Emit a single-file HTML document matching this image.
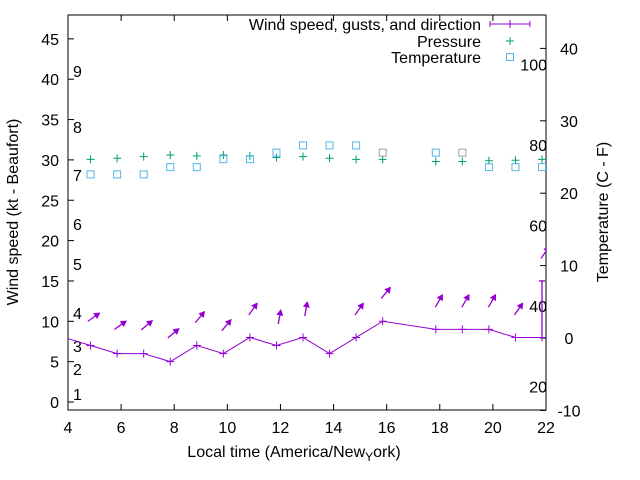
<!DOCTYPE html>
<html><head><meta charset="utf-8"><style>body{margin:0;background:#fff}svg{display:block;font-family:"Liberation Sans",sans-serif}</style></head>
<body>
<svg id="c" width="640" height="480" xmlns="http://www.w3.org/2000/svg"></svg>
<script>
const hours=[3.85,4.85,5.85,6.85,7.85,8.85,9.85,10.85,11.85,12.85,13.85,14.85,15.85,17.85,18.85,19.85,20.85,21.85];
const wind=[8,7,6,6,5,7,6,8,7,8,6,8,10,9,9,9,8,8];
const gust=[null,null,null,null,null,null,null,null,null,null,null,null,null,null,null,null,null,15];
const pressure=[null,30.07,30.2,30.4,30.6,30.5,30.6,30.5,30.3,30.4,30.2,30.07,30.07,29.8,29.8,29.9,29.95,30.07];
const temperature=[null,22.6,22.6,22.6,23.6,23.6,24.7,24.7,25.6,26.6,26.6,26.6,25.6,25.6,25.6,23.6,23.6,23.6];
const windDir=[null,35,35,40,40,50,50,55,80,80,null,55,50,60,60,60,55,55];
const xTicks=[4,6,8,10,12,14,16,18,20,22];
const yTicks=[0,5,10,15,20,25,30,35,40,45];
const y2Ticks=[-10,0,10,20,30,40];
const beaufort=[1,2,3,4,5,6,7,8,9];
const fahr=[20,40,60,80,100];
const L=68,R=546,T=15,B=402;
const X=v=>L+(v-4)*(R-L)/18;
const Y=v=>B-v*8.07;
const Y2=v=>338-v*7.24;
const s=document.getElementById('c');
function el(t,a,txt,parent){const e=document.createElementNS('http://www.w3.org/2000/svg',t);for(const k in a)e.setAttribute(k,a[k]);if(txt!=null)e.textContent=txt;(parent||s).appendChild(e);return e;}
let e;
e=el('rect',{x:L,y:T,width:R-L,height:B+8-T,fill:'none',stroke:'#000','stroke-width':1});


xTicks.forEach(v=>{const x=X(v);
e=el('line',{x1:x,x2:x,y1:410,y2:404,stroke:'#000'});


el('line',{x1:x,x2:x,y1:T,y2:T+6,stroke:'#000'});
e=el('text',{x:x,y:433,'font-size':16,'text-anchor':'middle'},v);

});
yTicks.forEach(v=>{const y=Y(v);
el('line',{x1:L,x2:L+6,y1:y,y2:y,stroke:'#000'});
e=el('text',{x:59,y:y+6,'font-size':16,'text-anchor':'end'},v);

});
y2Ticks.forEach(v=>{const y=Y2(v);
el('line',{x1:R,x2:R-6,y1:y,y2:y,stroke:'#000'});
e=el('text',{x:569,y:y+6,'font-size':16,'text-anchor':'middle'},v);

});
const bys=[394,369,346,313,264,224,175,127,71];
beaufort.forEach((b,i)=>{
e=el('text',{x:73,y:bys[i]+6,'font-size':16},b);

});
fahr.forEach(f=>{const y=Y2((f-32)*5/9);
e=el('text',{x:547,y:y+6,'font-size':16,'text-anchor':'end'},f);

});
e=el('text',{x:294,y:457,'font-size':16,'text-anchor':'middle'});
e.innerHTML='Local time (America/New<tspan font-size="12" dy="4">Y</tspan><tspan dy="-4">ork)</tspan>';


e=el('text',{x:18,y:212,'font-size':16,'text-anchor':'middle',transform:'rotate(-90 18 212)'},'Wind speed (kt - Beaufort)');


e=el('text',{x:608,y:212,'font-size':16,'text-anchor':'middle',transform:'rotate(-90 608 212)'},'Temperature (C - F)');


el('clipPath',{id:'cp'}).innerHTML='<rect x="68" y="15" width="478" height="395"/>';
const g=el('g',{'clip-path':'url(#cp)'});


const P='#9400d3';
let d=hours.map((h,i)=>(i?'L':'M')+X(h)+' '+Y(wind[i])).join(' ');
e=el('path',{d:d,stroke:P,fill:'none'},null,g);


function arrow(x,yv,deg){const a=deg*Math.PI/180,cy=Y(yv),cx=x+3,dx=Math.cos(a)*7,dy=-Math.sin(a)*7;
const tx=cx+dx,ty=cy+dy,ang=Math.atan2(dy,dx);
return el('path',{d:`M${cx-dx} ${cy-dy}L${tx} ${ty}M${tx} ${ty}L${tx-5*Math.cos(ang-0.5)} ${ty-5*Math.sin(ang-0.5)}L${tx-5*Math.cos(ang+0.5)} ${ty-5*Math.sin(ang+0.5)}Z`,stroke:P,fill:P,'stroke-width':1.3},null,g);}
hours.forEach((h,i)=>{const x=X(h),y=Y(wind[i]);
e=el('path',{d:`M${x-4} ${y}H${x+4}M${x} ${y-4}V${y+4}`,stroke:P},null,g);


if(windDir[i]!=null){const base=gust[i]!=null?gust[i]:wind[i];
e=arrow(x,base+3.5,windDir[i]);

}
if(gust[i]!=null){
e=el('path',{d:`M${x} ${y}V${Y(gust[i])}M${x-3} ${Y(gust[i])}H${x+3}`,stroke:P,'stroke-width':1.3},null,g);

}});
pressure.forEach((p,i)=>{if(p==null)return;const x=X(hours[i]),y=Y(p);
e=el('path',{d:`M${x-4} ${y}H${x+4}M${x} ${y-4}V${y+4}`,stroke:'#009e73'});

});
temperature.forEach((t,i)=>{if(t==null)return;const x=X(hours[i]),y=Y2(t);
const gray=(hours[i]==15.85||hours[i]==18.85);
e=el('rect',{x:x-3.5,y:y-3.5,width:7,height:7,fill:'none',stroke:gray?'#a0a0a0':'#56b4e9'});

});
const lg=[['Wind speed, gusts, and direction',24],['Pressure',41],['Temperature',57]];
lg.forEach(l=>{e=el('text',{x:481,y:l[1]+6,'font-size':16,'text-anchor':'end'},l[0]);

});
e=el('path',{d:'M490 24H530M490 21V27M530 21V27M510 20V28',stroke:P});


e=el('path',{d:'M506 41H514M510 37V45',stroke:'#009e73'});


e=el('rect',{x:506.5,y:53.5,width:7,height:7,fill:'none',stroke:'#56b4e9'});


</script>
</body></html>
